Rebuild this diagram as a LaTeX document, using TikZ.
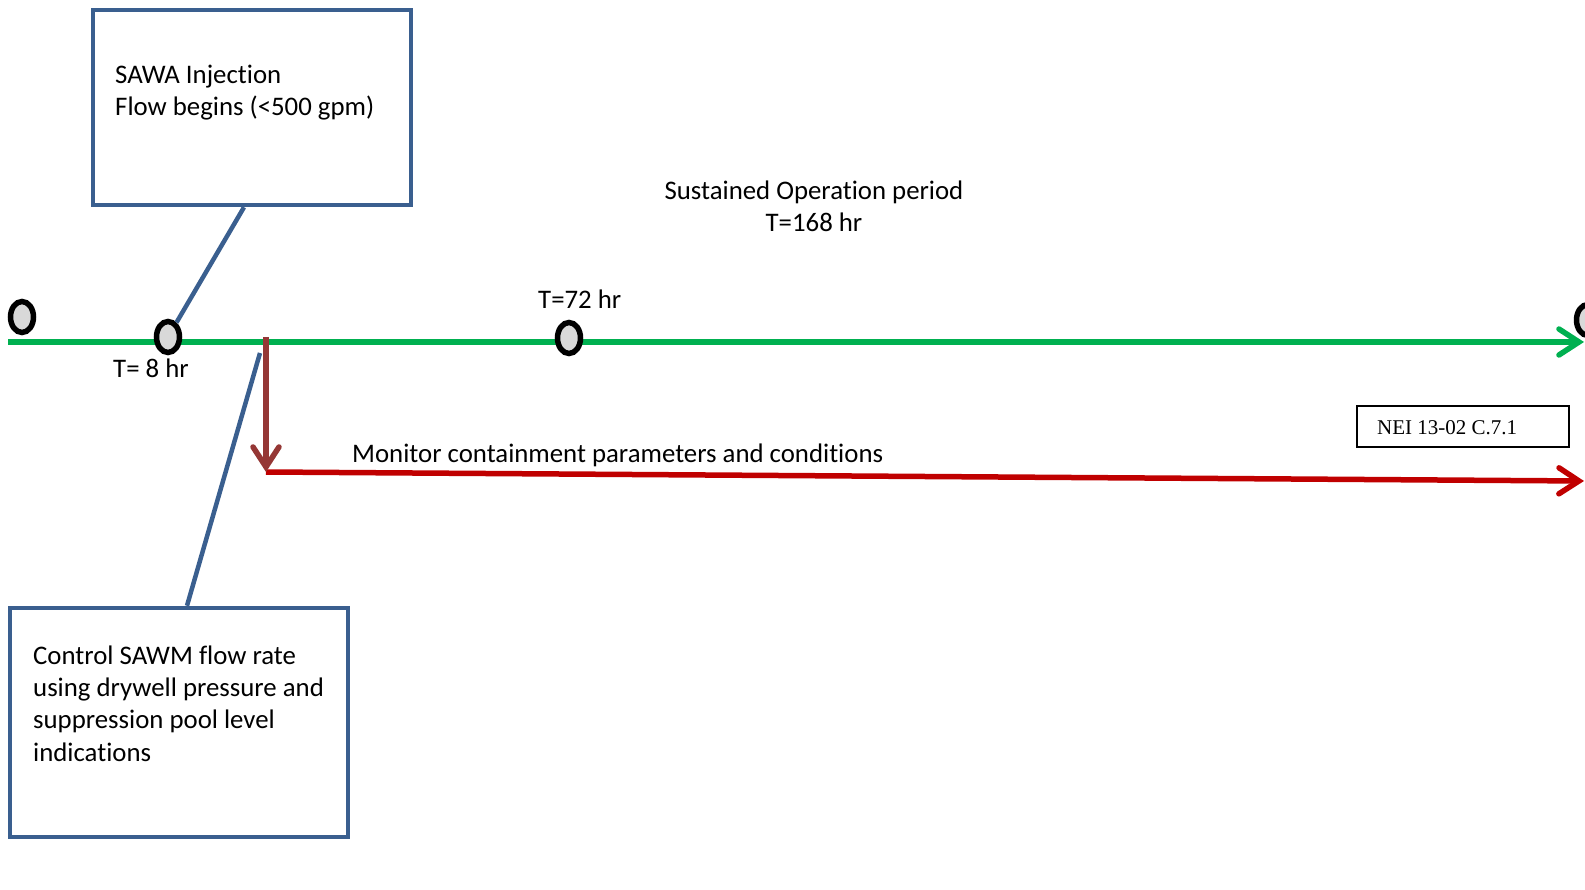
\documentclass[tikz,border=0pt]{standalone}
\usepackage{fontspec}
\setmainfont[Ligatures=NoCommon]{Carlito}
\newfontfamily\serifnei{Liberation Serif}
\usetikzlibrary{shapes.geometric,arrows.meta}
\definecolor{boxblue}{HTML}{3A5F8F}
\definecolor{tlgreen}{HTML}{00B050}
\definecolor{brn}{HTML}{953735}
\definecolor{rd}{HTML}{C00000}
\definecolor{cfill}{HTML}{D9D9D9}
\tikzset{
  bluebox/.style={draw=boxblue, line width=4.5pt, rectangle, inner sep=0pt},
  conn/.style={draw=boxblue, line width=4.5pt},
  marker/.style={ellipse, draw=black, fill=cfill, line width=5.5pt, minimum width=23pt, minimum height=31pt, inner sep=0pt},
  lbl/.style={font=\fontsize{26.8}{32}\selectfont, inner sep=0pt},
  barb/.style={-{Straight Barb[length=20pt,width=26pt,line cap=round]}},
}
\begin{document}
\begin{tikzpicture}[x=1pt,y=-1pt]
\useasboundingbox (0,0) rectangle (1585,890);
% main timeline
\coordinate (gs) at (8,342);
\coordinate (ge) at (1584,342);
\draw[tlgreen, line width=5.5pt, barb] (gs) -- (ge);
% red monitoring line
\coordinate (d0) at (266,337);
\coordinate (d1) at (266,472);
\coordinate (re) at (1584,481);
\draw[rd, line width=5.5pt, barb] (d1) -- (re);
\draw[brn, line width=5.5pt, barb] (d0) -- (d1);
% markers
\node[marker] (c0) at (22,317) {};
\node[marker] (c8) at (168,337) {};
\node[marker] (c72) at (569,338) {};
\node[marker] (c168) at (1588,320) {};
% boxes
\node[bluebox, minimum width=318pt, minimum height=195pt] (top) at (252,107.5) {};
\node[bluebox, minimum width=338pt, minimum height=229pt] (bot) at (179,722.5) {};
\node[draw=black, line width=1.3pt, minimum width=212pt, minimum height=41pt, inner sep=0pt] (nei) at (1463,426.5) {};
% connectors
\draw[conn] ([xshift=-8pt]top.south) -- (c8);
\coordinate (b1) at (260,353);
\draw[conn] (b1) -- ([xshift=8pt]bot.north);
% texts
\node[lbl, anchor=base west] (t1) at (115,84) {SAWA Injection};
\node[lbl, anchor=base west] (t2) at (115,116) {Flow begins (<500 gpm)};
\node[lbl, anchor=base west] (b1t) at (33,664) {Control SAWM flow rate};
\node[lbl, anchor=base west] (b2t) at (33,696) {using drywell pressure and};
\node[lbl, anchor=base west] (b3t) at (33,728) {suppression pool level};
\node[lbl, anchor=base west] (b4t) at (33,761) {indications};
\node[lbl, anchor=base] (s1) at (814,200) {Sustained Operation period};
\node[lbl, anchor=base] (s2) at (814,232) {T=168 hr};
\node[lbl, anchor=base west] (l8) at (113,378) {T= 8 hr};
\node[lbl, anchor=base west] (l72) at (538,309) {T=72 hr};
\node[lbl, anchor=base west] (mon) at (352,462) {Monitor containment parameters and conditions};
\node[anchor=base west, inner sep=0pt, font=\serifnei\fontsize{21}{25}\selectfont] (neit) at (1377,435) {NEI 13-02 C.7.1};
\end{tikzpicture}
\end{document}
